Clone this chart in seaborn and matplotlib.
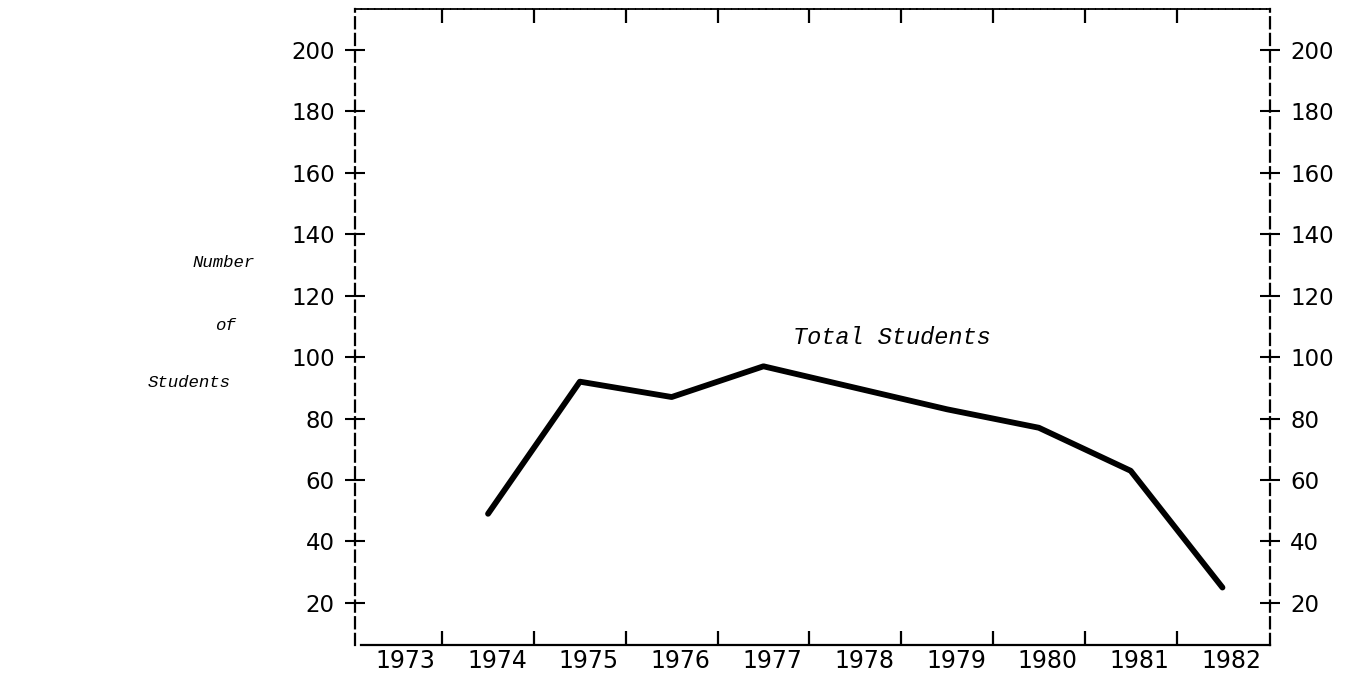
import matplotlib
matplotlib.use("Agg")
import matplotlib.pyplot as plt
import matplotlib.transforms as mtransforms
import numpy as np
import seaborn as sns

# values
years = [1974, 1975, 1976, 1977, 1978, 1979, 1980, 1981, 1982]
students = [49, 92, 87, 97, 90, 83, 77, 63, 25]
label_years = [1973, 1974, 1975, 1976, 1977, 1978, 1979, 1980, 1981, 1982]
year_labels = [str(y) for y in label_years]
y_ticks = [20, 40, 60, 80, 100, 120, 140, 160, 180, 200]

sns.set_style("ticks")
plt.rcParams["font.family"] = ["DejaVu Sans"]

fig = plt.figure(figsize=(13.62, 6.79), dpi=100)
ax = fig.add_axes([0.2606, 0.0501, 0.672, 0.9367])

sns.lineplot(x=years, y=students, color="black", linewidth=4.2, ax=ax,
             solid_capstyle="round")

ax.set_xlim(1972.55, 1982.52)
ax.set_ylim(6.3, 213.3)

# x: tick marks between the years, labels under each year
bounds = [(a + b) / 2 for a, b in zip(label_years[:-1], label_years[1:])]
ax.set_xticks(bounds)
ax.set_xticklabels([])
ax.set_xticks(label_years, minor=True)
ax.set_xticklabels(year_labels, minor=True)
ax.tick_params(axis="x", which="major", direction="in", length=10, width=1.6,
               color="black", top=True, bottom=True)
ax.tick_params(axis="x", which="minor", length=0, pad=3, labelsize=17,
               labelcolor="black")
shift = mtransforms.ScaledTranslation(0.09, 0, fig.dpi_scale_trans)
for lab in ax.get_xticklabels(minor=True):
    lab.set_transform(lab.get_transform() + shift)

# y: cross ticks on both sides
ax.set_yticks(y_ticks)
ax.tick_params(axis="y", direction="inout", length=15, width=1.5,
               color="black", left=True, right=True, labelleft=True,
               labelright=True, labelsize=16.5, labelcolor="black", pad=7)

for side in ["left", "right"]:
    ax.spines[side].set_linestyle((0, (5, 2.5)))
    ax.spines[side].set_linewidth(1.6)
    ax.spines[side].set_color("black")
ax.spines["top"].set_linestyle((0, (3, 0.8)))
ax.spines["top"].set_linewidth(1.3)
ax.spines["top"].set_color("black")
ax.spines["bottom"].set_linewidth(1.6)
ax.spines["bottom"].set_color("black")
ax.spines["bottom"].set_bounds(1972.62, 1982.52)

ax.set_xlabel("")
ax.set_ylabel("")

ax.text(1978.4, 106.5, "Total Students", family="Liberation Mono",
        style="italic", fontsize=17, color="black", ha="center", va="center")

ylab = dict(family="Liberation Mono", style="italic", fontsize=12.5,
            color="black", ha="left", va="center")
fig.text(0.1417, 0.614, "Number", **ylab)
fig.text(0.1579, 0.521, "of", **ylab)
fig.text(0.1087, 0.436, "Students", **ylab)

fig.savefig("out.png", dpi=100)
